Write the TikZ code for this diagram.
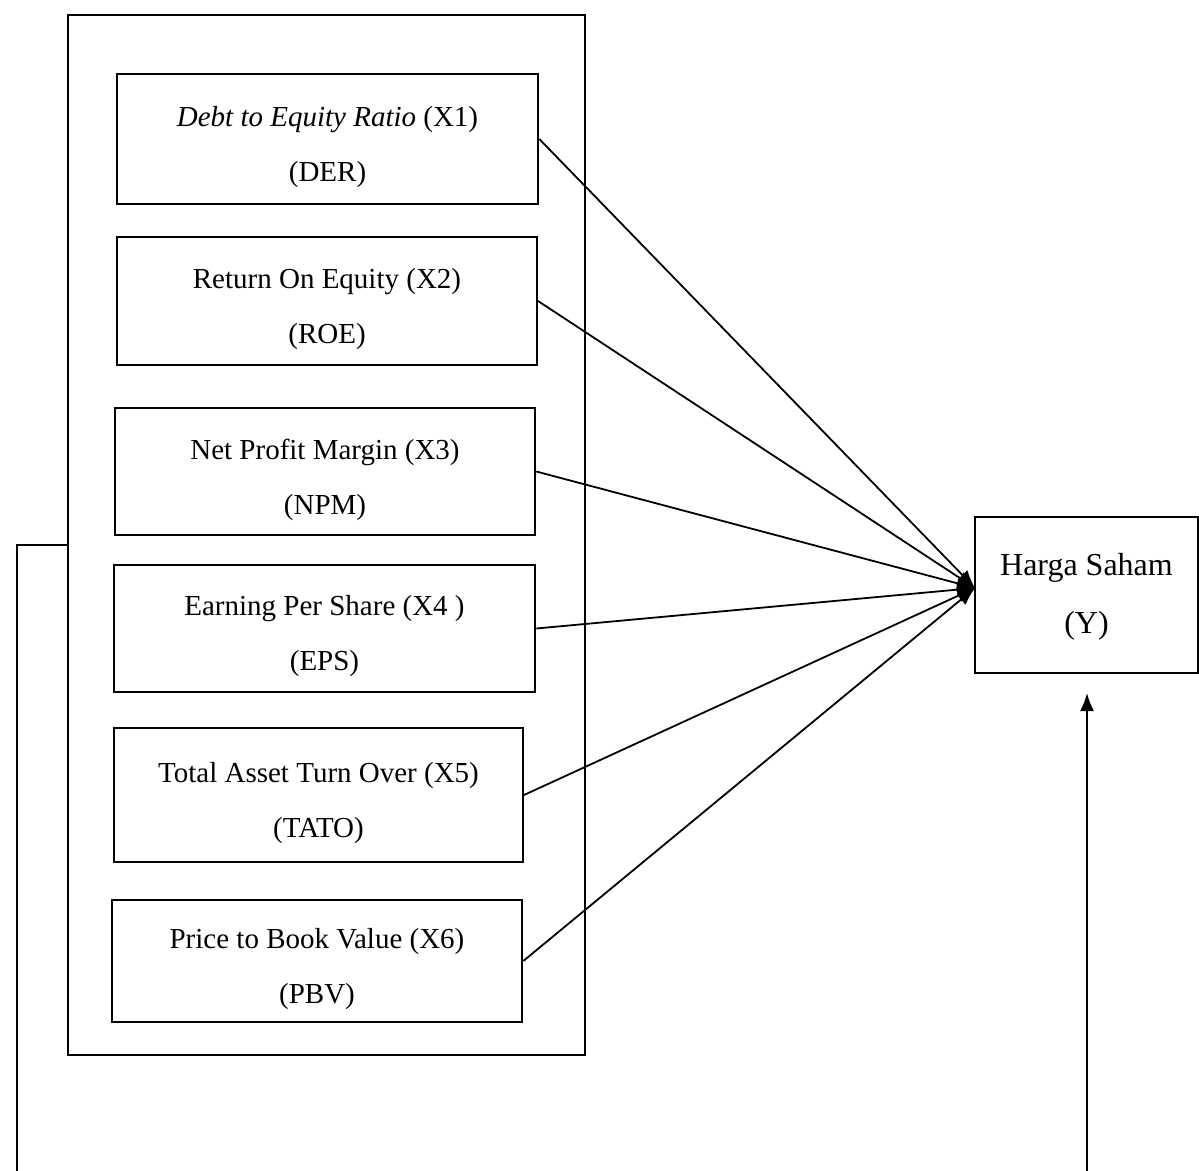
\documentclass[tikz,border=0pt]{standalone}
\usepackage{fontspec}
\setmainfont{Liberation Serif}
\usetikzlibrary{arrows.meta}
\begin{document}
\begin{tikzpicture}[x=0.5pt,y=-0.5pt,
  varbox/.style={draw, line width=1.3pt, rectangle, inner sep=0pt},
  boxtext/.style={font=\fontsize{14.5}{27.5}\selectfont, align=center},
  conn/.style={line width=0.9pt, -{Latex[length=9pt,width=7pt]}},
  plain/.style={line width=0.9pt}]
\useasboundingbox (0,0) rectangle (1199,1171);
% outer group box
\node[varbox, line width=1pt, minimum width=258.5pt, minimum height=520pt] (grp) at (326.5,535) {};
% variable boxes
\node[varbox, minimum width=210.5pt, minimum height=65pt,
  label={[boxtext, yshift=-4pt]center:{\textit{Debt to Equity Ratio} (X1)\\(DER)}}] (der) at (327.5,139) {};
\node[varbox, line width=1pt, minimum width=210pt, minimum height=64pt,
  label={[boxtext, yshift=-4pt]center:{Return On Equity (X2)\\(ROE)}}] (roe) at (327,301) {};
\node[varbox, minimum width=210pt, minimum height=63.5pt,
  label={[boxtext, yshift=-4pt]center:{Net Profit Margin (X3)\\(NPM)}}] (npm) at (325,471.5) {};
\node[varbox, minimum width=210.5pt, minimum height=63.5pt,
  label={[boxtext, yshift=-4pt]center:{Earning Per Share (X4 )\\(EPS)}}] (eps) at (324.5,628.5) {};
\node[varbox, line width=1pt, minimum width=204.5pt, minimum height=67pt,
  label={[boxtext, yshift=-4pt]center:{Total Asset Turn Over (X5)\\(TATO)}}] (tato) at (318.5,795) {};
\node[varbox, minimum width=205pt, minimum height=61pt,
  label={[boxtext, yshift=-4pt]center:{Price to Book Value (X6)\\(PBV)}}] (pbv) at (317,961) {};
% dependent variable
\node[varbox, line width=1pt, minimum width=111.5pt, minimum height=78pt,
  label={[boxtext, font=\fontsize{16}{29}\selectfont, yshift=-1pt]center:{Harga Saham\\(Y)}}] (y) at (1086.5,595) {};
\coordinate (tip) at (975,588);
\foreach \v in {der,roe,npm,eps,tato,pbv}
  \draw[conn] (\v.east) -- (tip);
% feedback lines
\coordinate (lefttop) at (17,545);
\coordinate (leftbot) at (17,1171);
\coordinate (rightbot) at (1087,1171);
\coordinate (righttop) at (1087,693);
\draw[plain] (grp.west |- lefttop) -- (lefttop) -- (leftbot);
\draw[conn] (rightbot) -- (righttop);
\end{tikzpicture}
\end{document}
